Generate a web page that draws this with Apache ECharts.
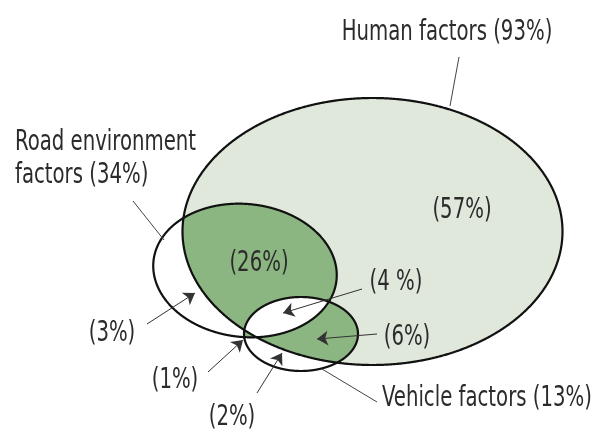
<!DOCTYPE html>
<html>
<head>
<meta charset="utf-8">
<script src="https://cdn.jsdelivr.net/npm/echarts@6/dist/echarts.min.js"></script>
<style>
  html, body { margin: 0; padding: 0; background: #fff; }
  #main { width: 593px; height: 434px; }
</style>
</head>
<body>
<div id="main"></div>
<script>
// sets and their shares
var setNames = ["Human factors", "Road environment\nfactors", "Vehicle factors"];
var setShares = [93, 34, 13];

// regions of the diagram and their shares
var regionNames = ["human only", "human+road", "all three", "human+vehicle", "road only", "road+vehicle", "vehicle only"];
var regionShares = ["57", "26", "4 ", "6", "3", "1", "2"];

// ellipse geometry in plot units (hidden axes)
var ellCx = [372.5, 245, 301];
var ellCy = [231.5, 270.5, 334];
var ellRx = [190, 92, 57];
var ellRy = [133.5, 66.5, 37];
var ellTilt = [0, 6, 0];

var font = "'DejaVu Sans Condensed', 'DejaVu Sans', sans-serif";
var textColor = "#2b2b2b";
var lightGreen = "#dfe8da";
var darkGreen = "#8bb581";

function inside(k, x, y) {
  var a = -ellTilt[k] * Math.PI / 180;
  var px = x - ellCx[k], py = y - ellCy[k];
  var lx = px * Math.cos(a) - py * Math.sin(a);
  var ly = px * Math.sin(a) + py * Math.cos(a);
  var dx = lx / ellRx[k], dy = ly / ellRy[k];
  return dx * dx + dy * dy <= 1 + 1e-9;
}

function boundary(k, t) {
  var a = ellTilt[k] * Math.PI / 180;
  var lx = ellRx[k] * Math.cos(t), ly = ellRy[k] * Math.sin(t);
  return [ellCx[k] + lx * Math.cos(a) - ly * Math.sin(a),
          ellCy[k] + lx * Math.sin(a) + ly * Math.cos(a)];
}

// intersection of convex shapes -> convex polygon
function region(ids) {
  var pts = [];
  ids.forEach(function (k) {
    for (var i = 0; i < 1440; i++) {
      var p = boundary(k, i / 1440 * Math.PI * 2);
      var ok = ids.every(function (j) { return j === k || inside(j, p[0], p[1]); });
      if (ok) pts.push(p);
    }
  });
  var mx = 0, my = 0;
  pts.forEach(function (p) { mx += p[0]; my += p[1]; });
  mx /= pts.length; my /= pts.length;
  pts.sort(function (a, b) {
    return Math.atan2(a[1] - my, a[0] - mx) - Math.atan2(b[1] - my, b[0] - mx);
  });
  return pts;
}

// paint order
var layers = [
  { ids: [0], fill: lightGreen },
  { ids: [1], fill: "#fff" },
  { ids: [2], fill: "#fff" },
  { ids: [0, 1], fill: darkGreen },
  { ids: [0, 2], fill: darkGreen },
  { ids: [1, 2], fill: darkGreen },
  { ids: [0, 1, 2], fill: "#fff" },
  { ids: [0], stroke: true },
  { ids: [1], stroke: true },
  { ids: [2], stroke: true }
];

// label layout
var regionLabelPos = [[462, 210], [259, 263], [396, 282], [407, 337], [112, 333], [175, 380], [232, 417]];
var setLabelPos = [[447, 32], [15, 159], [382, 398]];
var setLabelAlign = ["center", "left", "left"];

var arrows = [
  [[362, 289], [283, 313]],
  [[377, 334], [317, 339]],
  [[147, 324], [195, 293]],
  [[208, 372], [243, 340]],
  [[257, 393], [282, 353]]
];
var leaders = [
  [[459, 57], [450, 106]],
  [[133, 201], [164, 240]],
  [[322, 369], [377, 402]]
];

var chartDom = document.getElementById("main");
var myChart = echarts.init(chartDom);
var option;

var labelData = [];
regionShares.forEach(function (v, i) {
  labelData.push([regionLabelPos[i][0], regionLabelPos[i][1], "(" + v + "%)", "center"]);
});
setNames.forEach(function (n, i) {
  labelData.push([setLabelPos[i][0], setLabelPos[i][1], n + " (" + setShares[i] + "%)", setLabelAlign[i]]);
});

option = {
  backgroundColor: "#fff",
  animation: false,
  grid: { left: 0, right: 0, top: 0, bottom: 0 },
  xAxis: { type: "value", min: 0, max: 593, show: false },
  yAxis: { type: "value", min: 0, max: 434, inverse: true, show: false },
  series: [
    {
      type: "custom",
      coordinateSystem: "cartesian2d",
      data: layers.map(function (l, i) { return [i]; }),
      renderItem: function (params, api) {
        var l = layers[api.value(0)];
        var pts = region(l.ids).map(function (p) { return api.coord(p); });
        return {
          type: "polygon",
          z2: params.dataIndex,
          shape: { points: pts },
          style: l.stroke
            ? { fill: "none", stroke: "#111", lineWidth: 2.2 }
            : { fill: l.fill, stroke: "none" }
        };
      }
    },
    {
      type: "lines",
      coordinateSystem: "cartesian2d",
      symbol: ["none", "arrow"],
      symbolSize: 11,
      lineStyle: { color: "#333", width: 1, opacity: 1 },
      data: arrows.map(function (c) { return { coords: c }; }),
      z: 5
    },
    {
      type: "lines",
      coordinateSystem: "cartesian2d",
      symbol: "none",
      lineStyle: { color: "#444", width: 1, opacity: 1 },
      data: leaders.map(function (c) { return { coords: c }; }),
      z: 5
    },
    {
      type: "custom",
      coordinateSystem: "cartesian2d",
      data: labelData,
      z: 6,
      renderItem: function (params, api) {
        var d = labelData[params.dataIndex];
        var p = api.coord([d[0], d[1]]);
        return {
          type: "text",
          x: p[0],
          y: p[1],
          scaleX: 0.755,
          style: {
            text: d[2],
            font: "29px " + font,
            fill: textColor,
            align: d[3],
            verticalAlign: "middle",
            lineHeight: 33
          }
        };
      }
    }
  ]
};

option && myChart.setOption(option);
</script>
</body>
</html>
